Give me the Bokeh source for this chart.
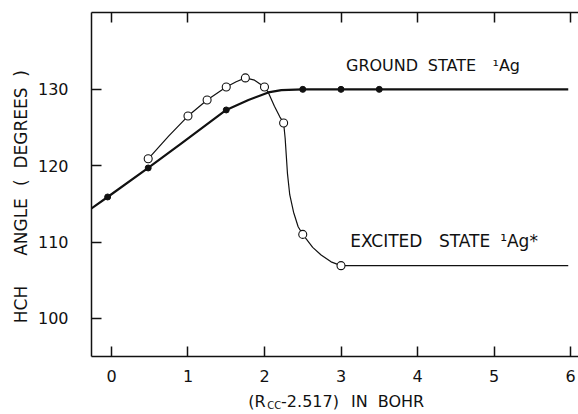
import math
from bokeh.plotting import figure
from bokeh.layouts import row, column
from bokeh.models import LinearAxis, FixedTicker, Label, Range1d, CustomJSTickFormatter
from bokeh.core.properties import value
from bokeh.embed import file_html
from bokeh.resources import INLINE

# ---- data ----
x_ticks = [0, 1, 2, 3, 4, 5, 6]
y_ticks = [100, 110, 120, 130]

# ground state 1Ag: computed points (filled dots)
ground_x = [-0.05, 0.48, 1.5, 2.5, 3.0, 3.5]
ground_y = [115.9, 119.7, 127.3, 130.0, 130.0, 130.0]
# ground state drawn curve
ground_curve_x = [-0.261, -0.05, 0.48, 0.91, 1.5, 1.79, 2.05, 2.22, 2.5, 3.0, 3.5, 5.97]
ground_curve_y = [114.4, 115.9, 119.7, 122.9, 127.3, 128.6, 129.6, 129.9, 130.0, 130.0, 130.0, 130.0]

# excited state 1Ag*: computed points (open circles)
excited_x = [0.48, 1.0, 1.25, 1.5, 1.75, 2.0, 2.25, 2.5, 3.0]
excited_y = [120.9, 126.5, 128.6, 130.3, 131.5, 130.3, 125.6, 111.0, 106.9]
# excited state drawn curve
excited_curve_x = [0.48, 0.75, 1.0, 1.25, 1.5, 1.63, 1.75, 1.87, 2.0, 2.05, 2.13, 2.2, 2.25,
                   2.27, 2.285, 2.30, 2.33, 2.38, 2.44, 2.5, 2.63, 2.74, 2.87, 3.0, 5.97]
excited_curve_y = [120.9, 123.9, 126.5, 128.6, 130.3, 131.0, 131.5, 131.2, 130.3, 129.6, 127.8, 126.4, 125.6,
                   123.6, 121.3, 119.0, 116.2, 113.9, 112.0, 111.0, 109.3, 108.3, 107.4, 106.9, 106.9]

y_title_words = ["HCH", "ANGLE", "(\u00a0\u00a0DEGREES\u00a0\u00a0)"]
x_title_parts = ["(R", "CC", "-2.517)", "IN", "BOHR"]

FONT = "DejaVu Sans"
INK = "#111111"
X_RANGE = (-0.261, 6.104)
Y_RANGE = (95.0, 140.07)

# ---------- main plot ----------
p = figure(width=544, height=392,
           x_range=Range1d(*X_RANGE), y_range=Range1d(*Y_RANGE),
           x_axis_location=None, y_axis_location=None,
           output_backend="svg", toolbar_location=None,
           min_border_left=56, min_border_right=0, min_border_top=12, min_border_bottom=36,
           background_fill_color="white", border_fill_color="white")
p.outline_line_color = None
p.grid.visible = False

bottom = LinearAxis(ticker=FixedTicker(ticks=x_ticks))
left = LinearAxis(ticker=FixedTicker(ticks=y_ticks))
top = LinearAxis(ticker=FixedTicker(ticks=x_ticks),
                 formatter=CustomJSTickFormatter(code="return ''"))
p.add_layout(bottom, "below")
p.add_layout(left, "left")
p.add_layout(top, "above")

for ax in [bottom, left, top]:
    ax.major_tick_in = 10
    ax.major_tick_out = 0
    ax.minor_tick_line_color = None
    ax.axis_line_color = INK
    ax.axis_line_width = 1.5
    ax.major_tick_line_color = INK
    ax.major_tick_line_width = 1.5
    ax.major_label_text_font = FONT
    ax.major_label_text_font_size = "16px"
    ax.major_label_text_color = INK

bottom.major_label_standoff = 13
left.major_label_standoff = 23
top.major_label_text_font_size = "1px"
top.major_label_standoff = 0

# curves and points
p.line(ground_curve_x, ground_curve_y, line_color=INK, line_width=2.2, line_join="round")
p.line(excited_curve_x, excited_curve_y, line_color=INK, line_width=1.2, line_join="round")
p.scatter(ground_x, ground_y, size=6, fill_color=INK, line_color=INK)
p.scatter(excited_x, excited_y, size=8, fill_color="white", line_color=INK, line_width=1.1)

def lab(fig, x, y, t, size="16px"):
    fig.add_layout(Label(x=x, y=y, text=t, text_font=FONT, text_font_size=size,
                         text_color=INK, text_baseline="alphabetic", text_align="left"))

# state annotations
lab(p, 3.065, 133.08, "GROUND")
lab(p, 4.135, 133.08, "STATE")
lab(p, 4.98, 133.08, "\u00b9Ag")
lab(p, 3.12, 110.15, "EXCITED", "17px")
lab(p, 4.28, 110.15, "STATE", "17px")
lab(p, 5.08, 110.15, "\u00b9Ag*", "17px")

# ---------- x-axis title strip ----------
p2 = figure(width=544, height=22, x_range=p.x_range, y_range=Range1d(0, 22),
            x_axis_location=None, y_axis_location=None,
            output_backend="svg", toolbar_location=None,
            min_border_left=56, min_border_right=0, min_border_top=0, min_border_bottom=0)
p2.outline_line_color = None
p2.grid.visible = False
x_pos = [1.787, 2.035, 2.217, 3.13, 3.48]
y_pos = [13.5, 9.5, 13.5, 13.5, 13.5]
sizes = ["16px", "10px", "16px", "16px", "16px"]
for t, xx, yy, s in zip(x_title_parts, x_pos, y_pos, sizes):
    lab(p2, xx, yy, t, s)

# ---------- y-axis title strip ----------
pl = figure(width=34, height=414, x_range=Range1d(0, 34), y_range=Range1d(0, 414),
            x_axis_location=None, y_axis_location=None,
            output_backend="svg", toolbar_location=None,
            min_border_left=0, min_border_right=0, min_border_top=0, min_border_bottom=0)
pl.outline_line_color = None
pl.grid.visible = False
pl.text(x=[20.5, 20.5, 20.5], y=[110, 187.5, 286.5], text=y_title_words,
        angle=math.pi / 2, text_align="center", text_baseline="middle",
        text_font=value(FONT), text_font_size="17px", text_color=INK)

layout = row(pl, column(p, p2, spacing=0), spacing=0)
open("out.html", "w").write(file_html(layout, INLINE))
